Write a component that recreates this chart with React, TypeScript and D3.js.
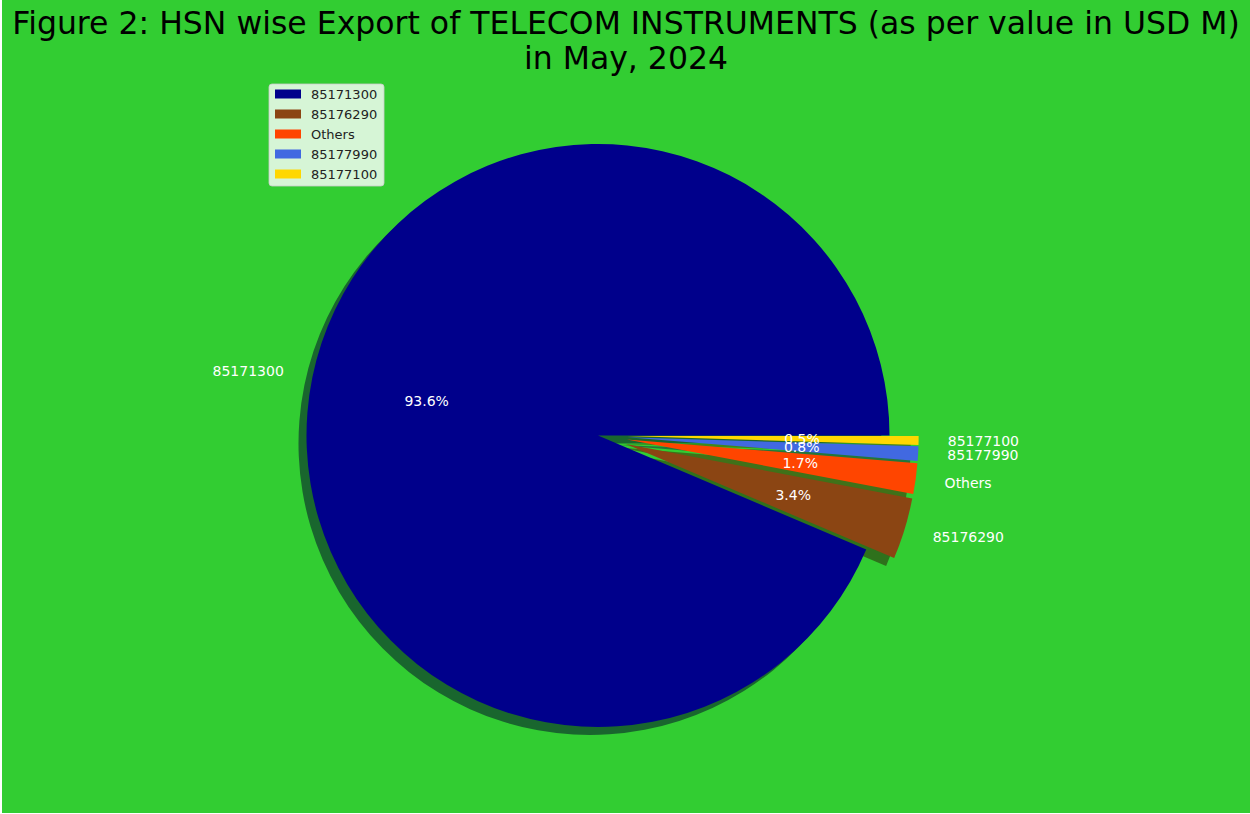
import {useEffect, useRef} from "react"

import * as d3 from "d3"

const categories = ["85171300", "85176290", "Others", "85177990", "85177100"]
const shares = [93.6, 3.4, 1.7, 0.8, 0.5]
const explode = [0, 0.1, 0.1, 0.1, 0.1]
const colors = ["#00008B", "#8B4513", "#FF4500", "#4169E1", "#FFD700"]

const titleLines = [
  "Figure 2: HSN wise Export of TELECOM INSTRUMENTS (as per value in USD M)",
  "in May, 2024",
]

const width = 1250
const height = 814
const center = {x: 598, y: 435.5}
const radius = 291.5
const font = "DejaVu Sans, sans-serif"

const App = (): JSX.Element => {
  const ref = useRef<SVGSVGElement>(null)

  useEffect(() => {
    if (!ref.current) return
    const svg = d3.select(ref.current)
    svg.selectAll("*").remove()

    svg.append("rect").attr("width", width).attr("height", height).attr("fill", "#fff")
    svg
      .append("rect")
      .attr("x", 2)
      .attr("width", width - 2)
      .attr("height", height - 1)
      .attr("fill", "#32CD32")

    // title
    svg
      .append("g")
      .selectAll("text")
      .data(titleLines)
      .join("text")
      .attr("x", 626)
      .attr("y", (_, i) => 34 + i * 35)
      .attr("text-anchor", "middle")
      .attr("font-family", font)
      .attr("font-size", 31.5)
      .attr("fill", "#000")
      .text((d) => d)

    // matplotlib style: start at 3 o'clock, counterclockwise
    const pie = d3
      .pie<number>()
      .sort(null)
      .startAngle(Math.PI / 2)
      .endAngle(Math.PI / 2 - 2 * Math.PI)
    const arcs = pie(shares)
    const arc = d3.arc<d3.PieArcDatum<number>>().innerRadius(0).outerRadius(radius)

    const offset = (d: d3.PieArcDatum<number>, k: number) => {
      const mid = (d.startAngle + d.endAngle) / 2
      return [Math.sin(mid) * k * radius, -Math.cos(mid) * k * radius]
    }

    const chart = svg.append("g").attr("transform", `translate(${center.x},${center.y})`)

    // shadows under everything
    chart
      .append("g")
      .selectAll("path")
      .data(arcs)
      .join("path")
      .attr("d", arc)
      .attr("transform", (d, i) => {
        const [dx, dy] = offset(d, explode[i])
        return `translate(${dx - 8},${dy + 8})`
      })
      .attr("fill", (_, i) => {
        const c = d3.rgb(colors[i])
        return d3.rgb(c.r * 0.3, c.g * 0.3, c.b * 0.3).toString()
      })
      .attr("fill-opacity", 0.5)

    chart
      .append("g")
      .selectAll("path")
      .data(arcs)
      .join("path")
      .attr("d", arc)
      .attr("transform", (d, i) => {
        const [dx, dy] = offset(d, explode[i])
        return `translate(${dx},${dy})`
      })
      .attr("fill", (_, i) => colors[i])

    // category labels
    chart
      .append("g")
      .selectAll("text")
      .data(arcs)
      .join("text")
      .attr("x", (d, i) => offset(d, 1.1 + explode[i])[0])
      .attr("y", (d, i) => offset(d, 1.1 + explode[i])[1])
      .attr("text-anchor", (d) => (offset(d, 1)[0] < 0 ? "end" : "start"))
      .attr("dominant-baseline", "central")
      .attr("font-family", font)
      .attr("font-size", 14)
      .attr("fill", "#fff")
      .text((_, i) => categories[i])

    // percentages
    chart
      .append("g")
      .selectAll("text")
      .data(arcs)
      .join("text")
      .attr("x", (d, i) => offset(d, 0.6 + explode[i])[0])
      .attr("y", (d, i) => offset(d, 0.6 + explode[i])[1])
      .attr("text-anchor", "middle")
      .attr("dominant-baseline", "central")
      .attr("font-family", font)
      .attr("font-size", 14)
      .attr("fill", "#fff")
      .text((_, i) => `${shares[i].toFixed(1)}%`)

    // legend
    const legend = svg.append("g").attr("transform", "translate(269,84)")
    legend
      .append("rect")
      .attr("width", 115)
      .attr("height", 102)
      .attr("rx", 3)
      .attr("fill", "#fff")
      .attr("fill-opacity", 0.8)
      .attr("stroke", "#ccc")
      .attr("stroke-opacity", 0.8)
    const rows = legend
      .selectAll("g")
      .data(categories)
      .join("g")
      .attr("transform", (_, i) => `translate(0,${10 + i * 20})`)
    rows
      .append("rect")
      .attr("x", 6)
      .attr("y", -4.5)
      .attr("width", 26)
      .attr("height", 9)
      .attr("fill", (_, i) => colors[i])
    rows
      .append("text")
      .attr("x", 42)
      .attr("dominant-baseline", "central")
      .attr("font-family", font)
      .attr("font-size", 13)
      .attr("fill", "#222")
      .text((d) => d)
  }, [])

  return (
    <svg
      ref={ref}
      width={width}
      height={height}
      style={{position: "fixed", left: 0, top: 0}}
    />
  )
}

export default App
